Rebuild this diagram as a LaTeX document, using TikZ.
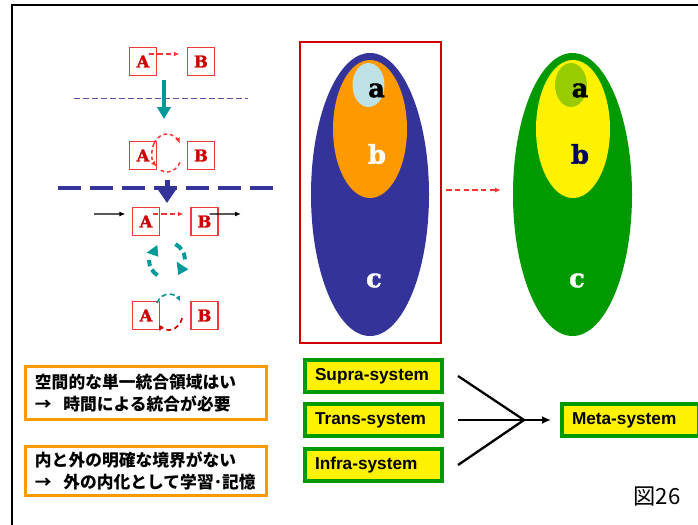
\documentclass[tikz,border=0pt]{standalone}
\usepackage{fontspec}
\usetikzlibrary{shapes.geometric,arrows.meta}

\newfontfamily\jpfont{Noto Sans CJK JP}
\newfontfamily\sysfont{Liberation Sans}
\newfontfamily\slabfont{DejaVu Serif Bold}[FakeBold=1.6]

\definecolor{cellblue}{HTML}{333399}
\definecolor{cellorange}{HTML}{FF9900}
\definecolor{paleblue}{HTML}{BDE1E4}
\definecolor{leafgreen}{HTML}{009900}
\definecolor{limegreen}{HTML}{99CC00}
\definecolor{boxred}{HTML}{F03A3A}
\definecolor{letterred}{HTML}{CC0000}
\definecolor{dashred}{HTML}{FF3333}
\definecolor{loopteal}{HTML}{009999}
\definecolor{inkblue}{HTML}{000066}

\begin{document}
\begin{tikzpicture} [
            x = 0.03cm, y = 0.03cm,
            letterbox/.style = {draw=boxred, line width=0.035cm, fill=white, minimum width=0.81cm,
                minimum height=0.84cm, inner sep=0pt, text=letterred,
                font=\slabfont\fontsize{14}{14}\selectfont},
            notebox/.style = {draw=cellorange, line width=0.09cm, fill=white, inner xsep=0.285cm,
                text width=6.66cm, align=left, font=\jpfont\bfseries\fontsize{14.3}{18.8}\selectfont},
            sysbox/.style = {draw=leafgreen, fill=yellow, line width=0.12cm, minimum height=0.96cm,
                inner xsep=0.3cm, text width=3.51cm, align=left,
                font=\sysfont\bfseries\fontsize{14.7}{16}\selectfont},
            blob/.style = {ellipse, inner sep=0pt},
            blobtext/.style = {inner sep=0pt, font=\slabfont\fontsize{22}{22}\selectfont},
            smalldash/.style = {dashred, line width=0.045cm, dash pattern=on 0.16cm off 0.1cm,
                -{Latex[length=0.17cm,width=0.15cm]}},
            loopline/.style = {line width=0.045cm, dash pattern=on 0.11cm off 0.09cm},
            feedarrow/.style = {black, line width=0.04cm, -{Latex[length=0.18cm,width=0.15cm]}},
            joinline/.style = {black, line width=0.07cm},
        ]

            \useasboundingbox (0,0) rectangle (698,-524);

            \coordinate (tl) at (12,-5);
            \coordinate (tr) at (702,-5);
            \coordinate (bl) at (12,-528);
            \draw[line width=0.08cm] (bl) -- (tl) -- (tr);

            % left column: A and B boxes
            \node[letterbox] (A1) at (143,-61.5)   {A};
            \node[letterbox] (B1) at (201,-61.5)   {B};
            \node[letterbox] (A2) at (143,-155.5)  {A};
            \node[letterbox] (B2) at (201,-155.5)  {B};
            \node[letterbox] (A3) at (146,-221.5)  {A};
            \node[letterbox] (B3) at (204.5,-221.5) {B};
            \node[letterbox] (A4) at (146,-315.5)  {A};
            \node[letterbox] (B4) at (204.5,-315.5) {B};

            \draw[smalldash] ([xshift=-0.255cm,yshift=0.225cm]A1.east) -- ([xshift=-0.225cm,yshift=0.225cm]B1.west);
            \draw[smalldash] ([xshift=-0.225cm,yshift=0.225cm]A3.east) -- ([xshift=-0.21cm,yshift=0.225cm]B3.west);

            \coordinate (cutL) at (74,-98);
            \coordinate (cutR) at (248,-98);
            \draw[cellblue!85, line width=0.03cm, dash pattern=on 0.18cm off 0.09cm] (cutL) -- (cutR);

            \coordinate (dropTop) at (164,-80);
            \coordinate (dropEnd) at (164,-119);
            \draw[loopteal, line width=0.13cm, -{Triangle[length=0.36cm,width=0.4cm]}] (dropTop) -- (dropEnd);

            \coordinate (loopA) at (167,-153);
            \draw[loopline, dashred, -{Latex[length=0.17cm,width=0.15cm]}]
                ([shift={(150:15 and 19)}]loopA) arc[start angle=150, end angle=30, x radius=15, y radius=19];
            \draw[loopline, dashred, -{Latex[length=0.17cm,width=0.15cm]}]
                ([shift={(150:15 and 19)}]loopA) arc[start angle=150, end angle=226, x radius=15, y radius=19];
            \draw[loopline, dashred]
                ([shift={(245:15 and 19)}]loopA) arc[start angle=245, end angle=338, x radius=15, y radius=19];

            \coordinate (wallL) at (58,-188);
            \coordinate (wallR) at (273,-188);
            \draw[cellblue, line width=0.12cm, dash pattern=on 0.69cm off 0.27cm] (wallL) -- (wallR);

            \coordinate (pushTop) at (167,-180);
            \coordinate (pushEnd) at (167,-203);
            \draw[cellblue, line width=0.15cm, -{Triangle[length=0.42cm,width=0.54cm]}] (pushTop) -- (pushEnd);

            \coordinate (feedIn) at (94,-214);
            \coordinate (feedOut) at (241,-214);
            \draw[feedarrow] (feedIn) -- ([xshift=-0.195cm,yshift=0.225cm]A3.west);
            \draw[feedarrow] ([xshift=-0.27cm,yshift=0.225cm]B3.east) -- (feedOut);

            \coordinate (spin) at (167,-260);
            \draw[loopteal, line width=0.12cm, dash pattern=on 0.24cm off 0.12cm]
                ([shift={(62:18)}]spin) arc[start angle=62, end angle=2, radius=18];
            \draw[loopteal, line width=0.12cm, dash pattern=on 0.24cm off 0.12cm]
                ([shift={(238:18)}]spin) arc[start angle=238, end angle=180, radius=18];
            \fill[loopteal] (146.7,-252.7) -- (157.3,-245) -- (158.3,-256.7) -- cycle;
            \fill[loopteal] (176.7,-261.7) -- (188.3,-269.3) -- (178.3,-275) -- cycle;

            \coordinate (loopB) at (169,-312);
            \draw[loopline, loopteal, line width=0.05cm, dash pattern=on 0.15cm off 0.1cm, -{Latex[length=0.17cm,width=0.15cm]}]
                ([shift={(150:14 and 18)}]loopB) arc[start angle=150, end angle=35, x radius=14, y radius=18];
            \draw[loopline, letterred, line width=0.05cm, dash pattern=on 0.15cm off 0.1cm, -{Latex[length=0.17cm,width=0.15cm]}]
                ([shift={(-20:14 and 18)}]loopB) arc[start angle=-20, end angle=-125, x radius=14, y radius=18] -- ++(-1.5,-5);

            % nested cells
            \node[draw=letterred, line width=0.07cm, minimum width=4.23cm, minimum height=9.03cm, inner sep=0pt] (frameL) at (370.5,-192.5) {};
            \node[blob, fill=cellblue, minimum width=3.54cm, minimum height=8.49cm]   (cellL) at (370,-194.5) {};
            \node[blob, fill=cellorange, minimum width=2.22cm, minimum height=4.14cm] (midL)  at (370,-129)   {};
            \node[blob, fill=paleblue, minimum width=0.96cm, minimum height=1.32cm]   (coreL) at (368.5,-85)  {};
            \node[blob, fill=leafgreen, minimum width=3.57cm, minimum height=8.49cm]  (cellR) at (572.5,-194.5) {};
            \node[blob, fill=yellow, minimum width=2.22cm, minimum height=4.14cm]     (midR)  at (573,-129)   {};
            \node[blob, fill=limegreen, minimum width=0.96cm, minimum height=1.32cm]  (coreR) at (571,-85)    {};

            \node[blobtext, text=black]   (labAL) at (376.5,-90.5) {a};
            \node[blobtext, text=white]   (labBL) at (377,-154)    {b};
            \node[blobtext, text=white]   (labCL) at (374,-280.5)  {c};
            \node[blobtext, text=black]   (labAR) at (580,-90.5)   {a};
            \node[blobtext, text=inkblue] (labBR) at (580,-154)    {b};
            \node[blobtext, text=white]   (labCR) at (577,-280.5)  {c};

            \coordinate (gapL) at ([xshift=0.12cm,yshift=0.075cm]frameL.east);
            \coordinate (gapR) at (gapL -| cellR.west);
            \draw[smalldash] (gapL) -- ([xshift=-0.36cm]gapR);

            % notes and systems
            \node[notebox, minimum height=1.59cm] (spaceNote) at (146,-393)
                {\mbox{空間的な単一統合領域はい}\\\mbox{→\hspace{0.7em}時間による統合が必要}};
            \node[notebox, minimum height=1.47cm] (edgeNote) at (146,-471)
                {\mbox{内と外の明確な境界がない}\\\mbox{→\hspace{0.7em}外の内化として学習･記憶}};

            \node[sysbox] (supra) at (373.5,-376) {Supra-system};
            \node[sysbox] (trans) at (373.5,-420) {Trans-system};
            \node[sysbox] (infra) at (373.5,-465) {Infra-system};
            \node[sysbox] (meta)  at (630.5,-420) {Meta-system};

            \coordinate (merge) at (524,-420);
            \draw[joinline] ([xshift=0.42cm]supra.east) -- (merge);
            \draw[joinline] ([xshift=0.42cm]infra.east) -- (merge);
            \draw[joinline, -{Latex[length=0.27cm,width=0.24cm]}] ([xshift=0.42cm]trans.east) -- ([xshift=-0.27cm]meta.west);

            \node[inner sep=0pt, font=\jpfont\fontsize{19}{19}\selectfont] (figNo) at (657,-497) {図26};
        \end{tikzpicture}
\end{document}
